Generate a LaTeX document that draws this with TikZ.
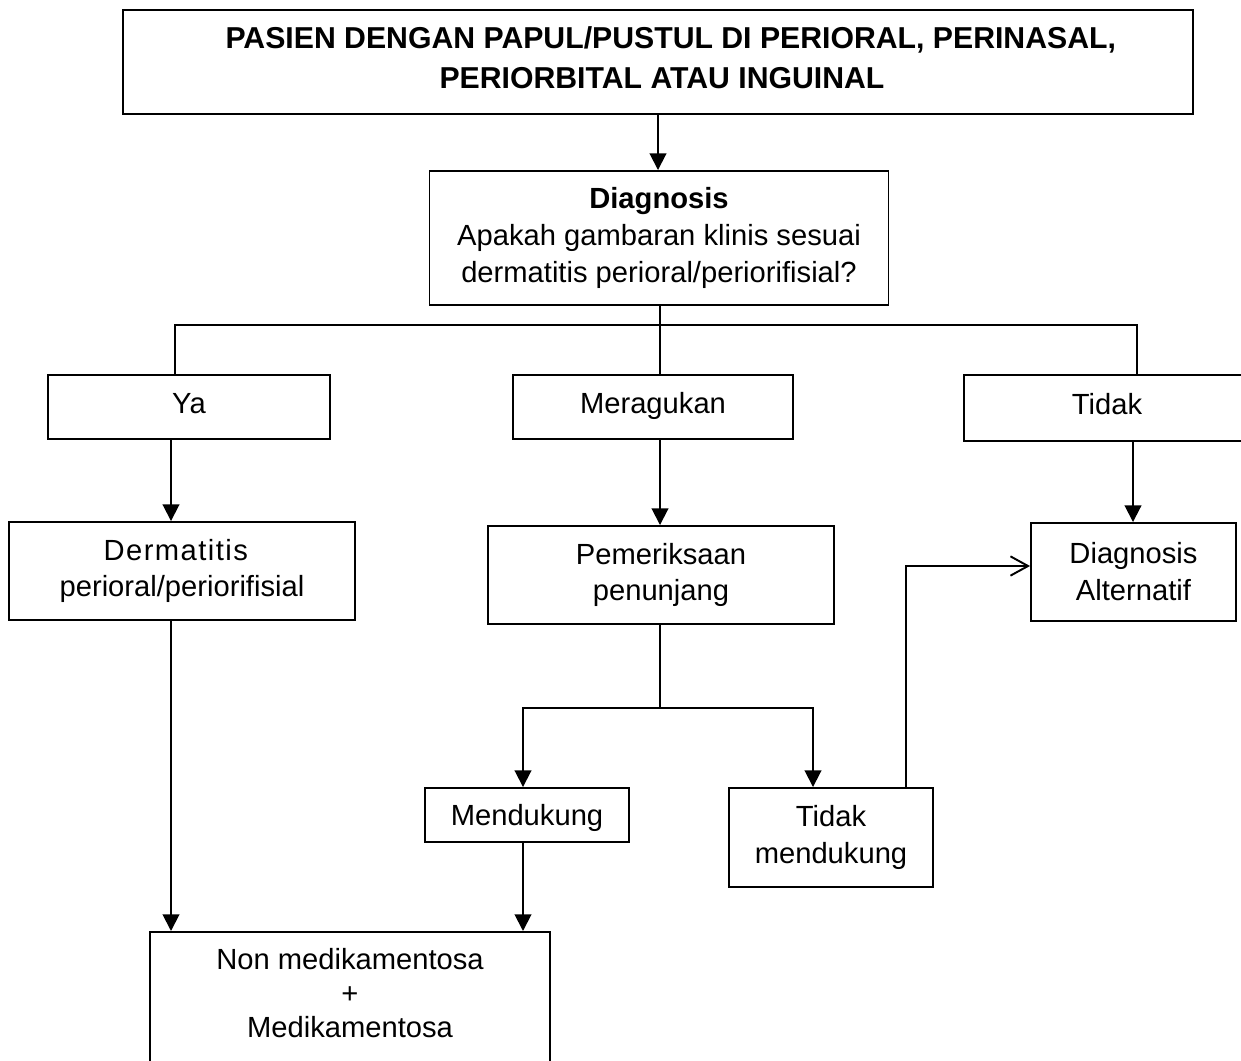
\documentclass[tikz,border=0pt]{standalone}
\usepackage{fontspec}
\setmainfont{Liberation Sans}
\usetikzlibrary{arrows.meta}
\begin{document}
\begin{tikzpicture}[x=0.02cm,y=-0.02cm,
  sz/.style 2 args={minimum width=#1*0.02cm, minimum height=#2*0.02cm},
  box/.style={draw, line width=1.1pt, inner sep=0pt, align=center,
    font=\fontsize{16.6}{21}\selectfont},
  oneline/.style={text height=12.45pt, text depth=5.6pt},
  label/.style={inner sep=0pt, align=center},
  wire/.style={line width=1.1pt},
  arr/.style={wire, -{Triangle[length=9.5pt,width=9.5pt]}},
  openarr/.style={wire, -{Straight Barb[length=10pt,width=11pt]}}]
\useasboundingbox (0,0) rectangle (1241,1061);
\clip (0,0) rectangle (1241,1061);

% boxes
\node[box, sz={1070}{104}] (top) at (658,62) {};
\node[label, font=\bfseries\fontsize{17.2}{22.8}\selectfont] (toptext) at (662,58)
  {\hspace*{10pt}PASIEN DENGAN PAPUL/PUSTUL DI PERIORAL, PERINASAL,\\PERIORBITAL ATAU INGUINAL};
\node[box, sz={459}{134}] (diag) at (659,238)
  {\textbf{Diagnosis}\\Apakah gambaran klinis sesuai\\dermatitis perioral/periorifisial?};
\node[box, oneline, sz={282}{64}] (ya) at (189,407) {Ya};
\node[box, oneline, sz={280}{64}] (merag) at (653,407) {Meragukan};
\node[box, oneline, sz={286}{66}] (tidak) at (1107,408) {Tidak};
\node[box, sz={346}{98}] (derm) at (182,571)
  {{\addfontfeature{LetterSpace=5}Dermatitis}\hspace*{7pt}\\perioral/periorifisial};
\node[box, sz={346}{98}] (pem) at (661,575) {Pemeriksaan\\penunjang};
\node[box, sz={205}{98}] (dalt) at (1133.5,572) {Diagnosis\\Alternatif};
\node[box, sz={204}{54}, text height=12.45pt, text depth=1pt] (mend) at (527,815) {Mendukung};
\node[box, sz={204}{99}] (tmend) at (831,837.5) {Tidak\\mendukung};
\node[box, sz={400}{150}, anchor=north] (nonmed) at (350,931) {};
\node[label, font=\fontsize{16.6}{19.4}\selectfont] (nonmedtext) at (350,993)
  {Non medikamentosa\\+\\Medikamentosa};

% lanes and rows used by the connectors
\coordinate (laneA) at (171,0);
\coordinate (laneH) at (175,0);
\coordinate (laneB) at (523,0);
\coordinate (laneC) at (660,0);
\coordinate (laneD) at (813,0);
\coordinate (laneE) at (906,0);
\coordinate (laneF) at (1133,0);
\coordinate (laneG) at (1137,0);
\coordinate (rowBus) at (0,325);
\coordinate (rowSplit) at (0,708);
\coordinate (rowAlt) at (0,566);

% connectors
\draw[arr] (top.south) -- (top.south |- diag.north);
\draw[wire] (diag.south -| laneC) -- (laneC |- merag.north);
\draw[wire] (ya.north -| laneH) -- (laneH |- rowBus) -- (laneG |- rowBus) -- (laneG |- tidak.north);
\draw[arr] (ya.south -| laneA) -- (derm.north -| laneA);
\draw[arr] (merag.south -| laneC) -- (pem.north -| laneC);
\draw[arr] (tidak.south -| laneF) -- (dalt.north -| laneF);
\draw[wire] (pem.south -| laneC) -- (laneC |- rowSplit);
\draw[arr] (laneC |- rowSplit) -- (laneB |- rowSplit) -- (mend.north -| laneB);
\draw[arr] (laneC |- rowSplit) -- (laneD |- rowSplit) -- (tmend.north -| laneD);
\draw[openarr] (tmend.north -| laneE) -- (laneE |- rowAlt) -- (dalt.west |- rowAlt);
\draw[arr] (derm.south -| laneA) -- (nonmed.north -| laneA);
\draw[arr] (mend.south -| laneB) -- (nonmed.north -| laneB);
\end{tikzpicture}
\end{document}
